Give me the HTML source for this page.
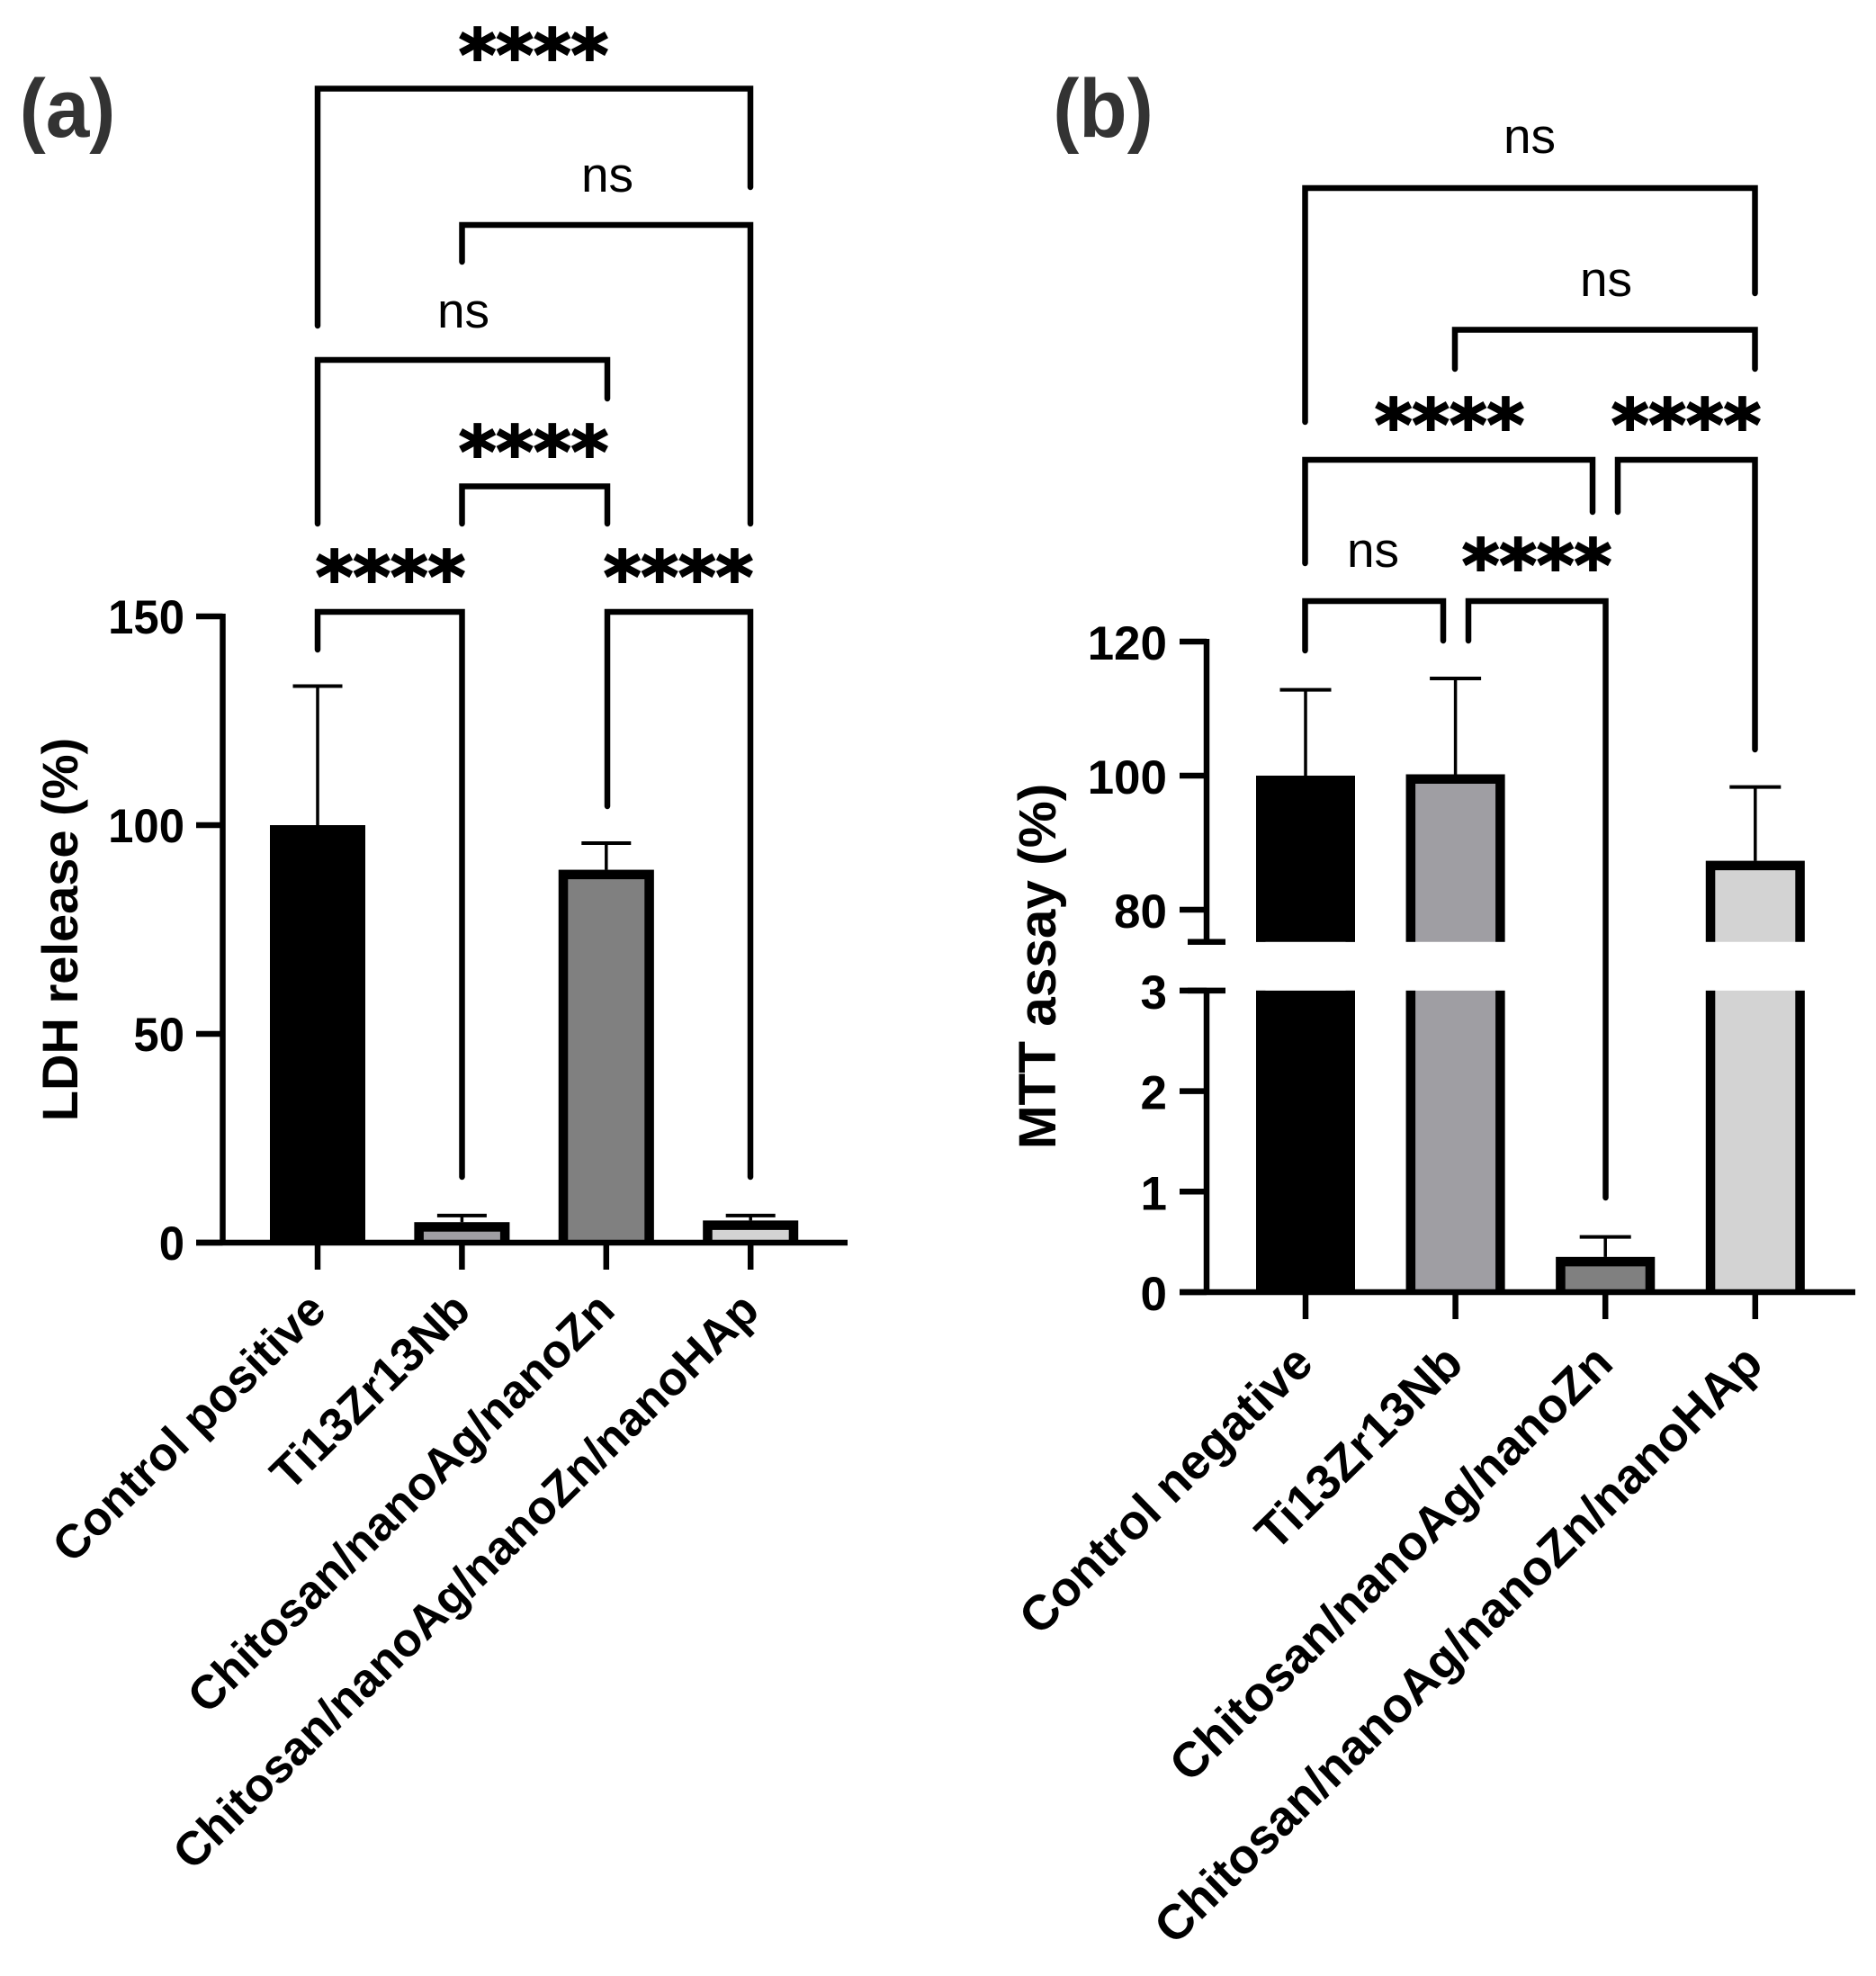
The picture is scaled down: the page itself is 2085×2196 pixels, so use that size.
<!DOCTYPE html>
<html lang="en">
<head>
<meta charset="utf-8">
<title>LDH release and MTT assay</title>
<style>
html,body{margin:0;padding:0;background:#fff;}
svg{display:block;}
text{font-family:"Liberation Sans",sans-serif;fill:#000;}
.star{font-family:"DejaVu Sans",sans-serif;font-weight:700;font-size:79.5px;text-anchor:middle;stroke:#000;stroke-width:2;}
.ns{font-size:55px;text-anchor:middle;}
.panel{font-size:92px;font-weight:700;fill:#333;text-anchor:middle;}
.tick{font-size:53px;font-weight:700;text-anchor:end;}
.title{font-size:56px;font-weight:700;text-anchor:middle;}
.cat{font-weight:700;text-anchor:end;}
.br{fill:none;stroke:#000;stroke-width:6.5;stroke-linejoin:miter;stroke-linecap:round;}
</style>
</head>
<body>
<svg id="fig" xmlns="http://www.w3.org/2000/svg" width="2085" height="2196" viewBox="0 0 2085 2196">
<rect width="2085" height="2196" fill="#fff"/>
<text class="panel" transform="translate(75,152) scale(.95,1)">(a)</text>
<text class="panel" transform="translate(1226,152) scale(.95,1)">(b)</text>

<g>
<path class="br" d="M353 362V98.500H834V208"/>
<path class="br" d="M513.500 291V250H834V582"/>
<path class="br" d="M353 582V400H675V443"/>
<path class="br" d="M513.500 582V540.500H675V582"/>
<path class="br" d="M353 722V680H513.500V1308"/>
<path class="br" d="M675 896V680H834V1308"/>
<text class="star" x="593" y="89">****</text>
<text class="ns" x="675" y="213">ns</text>
<text class="ns" x="515" y="364">ns</text>
<text class="star" x="593" y="530">****</text>
<text class="star" x="434" y="669">****</text>
<text class="star" x="754" y="669">****</text>
</g>

<g>
<path class="br" d="M1450.500 469V209H1950.500V326"/>
<path class="br" d="M1617 410V366.500H1950.500V410"/>
<path class="br" d="M1450.500 626V511H1770V569"/>
<path class="br" d="M1798 569V511H1950.500V833"/>
<path class="br" d="M1450.500 723V668H1604V712"/>
<path class="br" d="M1632 712V668H1784.500V1331"/>
<text class="ns" x="1700" y="170">ns</text>
<text class="ns" x="1785" y="329">ns</text>
<text class="star" x="1611" y="500">****</text>
<text class="star" x="1874" y="500">****</text>
<text class="ns" x="1526" y="630">ns</text>
<text class="star" x="1708" y="656">****</text>
</g>

<text class="title" transform="translate(86,1033) rotate(-90)">LDH release (%)</text>
<text class="title" style="font-size:58.500px" transform="translate(1173,1074) rotate(-90)">MTT assay (%)</text>
<g id="plotA"></g>
<g id="plotB"></g>
</svg>
<script>
const categoriesA = ["Control positive", "Ti13Zr13Nb", "Chitosan/nanoAg/nanoZn", "Chitosan/nanoAg/nanoZn/nanoHAp"];
const valuesA = [100, 4.9, 89.3, 5.3];
const errorTopsA = [133.3, 6.5, 95.7, 6.5];
const ticksA = [0, 50, 100, 150];

const categoriesB = ["Control negative", "Ti13Zr13Nb", "Chitosan/nanoAg/nanoZn", "Chitosan/nanoAg/nanoZn/nanoHAp"];
const valuesB = [100, 100.2, 0.35, 87.3];
const errorTopsB = [112.8, 114.5, 0.55, 98.3];
const ticksLowerB = [0, 1, 2, 3];
const ticksUpperB = [80, 100, 120];

const fills = ["#000000", "#9f9ea3", "#808080", "#d3d3d3"];

const NS = "http://www.w3.org/2000/svg";
function mk(parent, tag, attrs, txt) {
  const el = document.createElementNS(NS, tag);
  for (const k in attrs) el.setAttribute(k, attrs[k]);
  if (txt !== undefined) el.textContent = txt;
  parent.appendChild(el);
  return el;
}

/* axis functions */
function yA(v) { return 1381 - v * 4.64; }
function xA(i) { return 353 + i * 160.4; }
const BREAK_LOW = 3, BREAK_HIGH = 75.2;
function yB(v) {
  return v <= BREAK_LOW ? 1436 - v * 111.7 : 862 - (v - 100) * 7.45;
}
function xB(i) { return 1451 + i * 166.6; }

const BW = 10.5;
function outline(g, x, w, yTop, yBot, closedTop, fill, name) {
  const seg = mk(g, "rect", { x: x, y: yTop, width: w, height: yBot - yTop, fill: fill });
  
  
  const h = BW / 2;
  const d = closedTop
    ? `M${x + h} ${yBot}V${yTop + h}H${x + w - h}V${yBot}`
    : `M${x + h} ${yBot}V${yTop}M${x + w - h} ${yBot}V${yTop}`;
  const p = mk(g, "path", { d: d, fill: "none", stroke: "#000", "stroke-width": BW });
  
  
}

function errorBar(g, x, y0, y1, capW, name) {
  const l = mk(g, "line", { x1: x, x2: x, y1: y0, y2: y1, stroke: "#000", "stroke-width": 3.5 });
  
  
  const c = mk(g, "line", { x1: x - capW / 2, x2: x + capW / 2, y1: y1, y2: y1, stroke: "#000", "stroke-width": 4 });
  
  
}

function yTick(g, x0, x1, y, labelRight, label, base, sx, name) {
  const t = mk(g, "line", { x1: x0, x2: x1, y1: y, y2: y, stroke: "#000", "stroke-width": 6.5 });
  
  
  const s = mk(g, "text", { class: "tick", transform: `translate(${labelRight},${y + base}) scale(${sx},1)` }, label);
  
  
}

function catLabel(g, x, yTop, yEnd, xEnd, label, size, name) {
  const t = mk(g, "line", { x1: x, x2: x, y1: yTop, y2: yTop + 30, stroke: "#000", "stroke-width": 6.5 });
  
  
  const s = mk(g, "text", { class: "cat", style: "font-size:" + size + "px", transform: `translate(${xEnd},${yEnd}) rotate(-44.5)` }, label);
  
  
}

/* Panel A */
const gA = document.getElementById("plotA");
categoriesA.forEach(function (c, i) {
  const x = xA(i), w = 106;
  const top = yA(valuesA[i]);
  outline(gA, x - w / 2, w, top, yA(0), true, fills[i], "bar-a-" + (i + 1));
  errorBar(gA, x, top, yA(errorTopsA[i]), 55, "error-a-" + (i + 1));
});
const axA = mk(gA, "path", { d: `M247.500 ${yA(150) - 3}V${yA(0)}M218 ${yA(0)}H942`, fill: "none", stroke: "#000", "stroke-width": 6.5 });


ticksA.forEach(function (v) {
  yTick(gA, 218, 247.5, yA(v), 205, String(v), 19, 0.96, "y-tick-a-" + v);
});
categoriesA.forEach(function (c, i) {
  catLabel(gA, xA(i), yA(0), 1459, xA(i) + 12, c, 52.5, "x-cat-a-" + (i + 1));
});

/* Panel B */
const gB = document.getElementById("plotB");
categoriesB.forEach(function (c, i) {
  const x = xB(i), w = 110, v = valuesB[i];
  const name = "bar-b-" + (i + 1);
  if (v > BREAK_LOW) {
    outline(gB, x - w / 2, w, yB(BREAK_LOW), yB(0), false, fills[i], name + "-lower");
    outline(gB, x - w / 2, w, yB(v), yB(BREAK_HIGH), true, fills[i], name + "-upper");
  } else {
    outline(gB, x - w / 2, w, yB(v), yB(0), true, fills[i], name);
  }
  errorBar(gB, x, yB(v), yB(errorTopsB[i]), 57, "error-b-" + (i + 1));
});
const axBUp = mk(gB, "path", { d: `M1341 ${yB(120) - 3}V${yB(BREAK_HIGH)}M1320 ${yB(BREAK_HIGH)}H1362`, fill: "none", stroke: "#000", "stroke-width": 6.5 });


const axBLo = mk(gB, "path", { d: `M1320 ${yB(3)}H1362M1341 ${yB(3)}V${yB(0)}M1311 ${yB(0)}H2062`, fill: "none", stroke: "#000", "stroke-width": 6.5 });


ticksUpperB.forEach(function (v) {
  yTick(gB, 1311, 1341, yB(v), 1297, String(v), 20, 1, "y-tick-b-" + v);
});
ticksLowerB.forEach(function (v) {
  yTick(gB, 1311, 1341, yB(v), 1297, String(v), 20, 1, "y-tick-b-" + v);
});
categoriesB.forEach(function (c, i) {
  catLabel(gB, xB(i), yB(0), 1518, xB(i) + 11, c, 54.5, "x-cat-b-" + (i + 1));
});
</script>
</body>
</html>
